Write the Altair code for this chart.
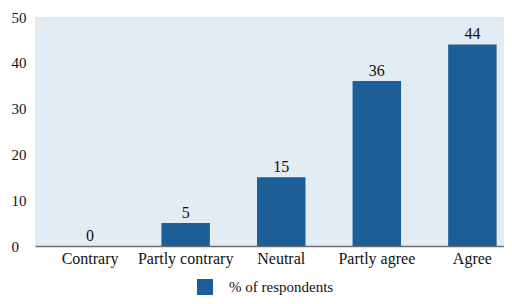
import altair as alt
import pandas as pd

categories = ["Contrary", "Partly contrary", "Neutral", "Partly agree", "Agree"]
values = [0, 5, 15, 36, 44]
series_name = "% of respondents"

df = pd.DataFrame({"category": categories, "value": values, "series": [series_name] * len(categories)})

FONT = "Liberation Serif, Times New Roman, serif"
BAR = "#1c5e98"
BG = "#e3ebf3"

x = alt.X("category:N", sort=categories, title=None,
          scale=alt.Scale(paddingInner=0.493, paddingOuter=0.2, align=0.807),
          axis=alt.Axis(labelAngle=0, ticks=False, labelPadding=4, domainColor="#6e6e6e",
                        domainWidth=1.5, labelFont=FONT, labelFontSize=16, labelColor="#111111"))
y = alt.Y("value:Q", title=None, scale=alt.Scale(domain=[0, 50]),
          axis=alt.Axis(values=[0, 10, 20, 30, 40, 50], domain=False, ticks=False, grid=False,
                        labelFont=FONT, labelFontSize=15, labelColor="#111111",
                        labelAlign="left", labelPadding=24))

bars = alt.Chart(df).mark_bar().encode(
    x=x, y=y,
    color=alt.Color("series:N", scale=alt.Scale(range=[BAR]), title=None,
                    legend=alt.Legend(orient="none", legendX=162, legendY=262, padding=0,
                                      symbolType="square", symbolSize=256, symbolStrokeWidth=0,
                                      symbolOpacity=1, labelOffset=16,
                                      labelFont=FONT, labelFontSize=15, labelColor="#111111")),
)

labels = alt.Chart(df).mark_text(baseline="alphabetic", dy=-5, font=FONT, fontSize=16, color="#111111").encode(
    x=alt.X("category:N", sort=categories),
    y="value:Q",
    text="value:Q",
)

chart = (bars + labels).properties(
    width=469, height=229,
    autosize=alt.AutoSizeParams(type="none"),
    padding={"left": 27, "top": 9, "right": 0, "bottom": 50},
).configure_view(fill=BG, stroke=None)

chart.save("out.html", embed_options={"renderer": "svg", "actions": False})
